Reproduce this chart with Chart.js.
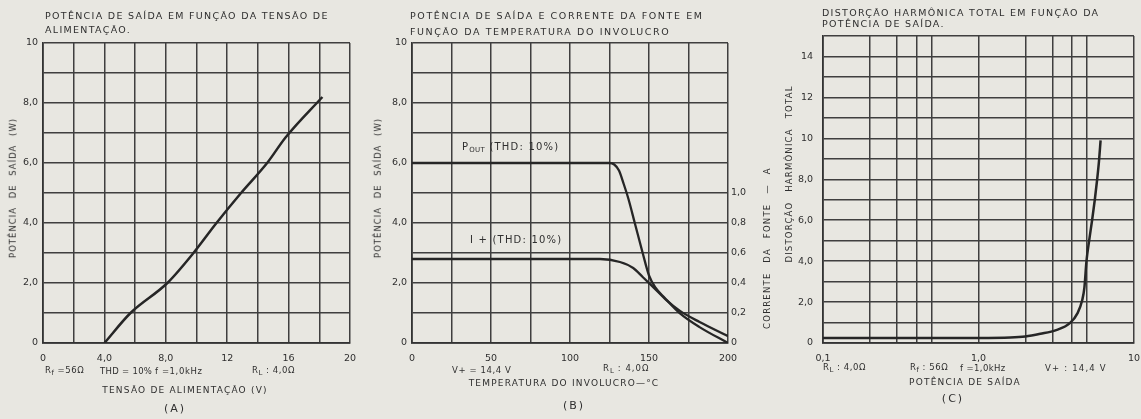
<!DOCTYPE html>
<html>
<head>
<meta charset="utf-8">
<script src="https://cdn.jsdelivr.net/npm/chart.js@4.4.1/dist/chart.umd.min.js"></script>
<style>
  body { margin: 0; width: 1141px; height: 419px; overflow: hidden; background: #e8e7e1; position: relative;
         font-family: "DejaVu Sans", sans-serif; color: #2f2f2f; }
  canvas { position: absolute; top: 0; }
  .t { position: absolute; white-space: nowrap; font-size: 9px; letter-spacing: 1.2px; line-height: 1; }
  .h { font-size: 9.5px; letter-spacing: 1.3px; }
  .r { font-size: 8.5px; letter-spacing: 0.6px; }
  .m { transform: translateY(-50%); }
  .c { transform: translate(-50%, -50%); }
  .v { transform: translate(-50%, -50%) rotate(-90deg); }
  sub { font-size: 7px; vertical-align: -2px; letter-spacing: 0.3px; }
</style>
</head>
<body>
<canvas id="chartA" width="380" height="419" style="left:0"></canvas>
<canvas id="chartB" width="400" height="419" style="left:380px"></canvas>
<canvas id="chartC" width="370" height="419" style="left:780px"></canvas>

<!-- (A) -->
<div class="t h m" style="left:45px;top:16px">POTÊNCIA DE SAÍDA EM FUNÇÃO DA TENSÃO DE</div>
<div class="t h m" style="left:45px;top:30px">ALIMENTAÇÃO.</div>
<div class="t v" style="left:13px;top:188px;word-spacing:5px;font-size:8.5px;letter-spacing:1px">POTÊNCIA DE SAÍDA (W)</div>
<div class="t r m" style="left:45px;top:371px">R<sub>f</sub> =56Ω</div>
<div class="t r m" style="left:100px;top:371px;letter-spacing:0.3px">THD = 10%</div>
<div class="t r m" style="left:155px;top:371px">f =1,0kHz</div>
<div class="t r m" style="left:252px;top:371px">R<sub>L</sub> : 4,0Ω</div>
<div class="t c" style="left:185px;top:390px">TENSÃO DE ALIMENTAÇÃO (V)</div>
<div class="t c" style="left:175px;top:408px;font-size:11px;letter-spacing:2px">(A)</div>

<!-- (B) -->
<div class="t h m" style="left:410px;top:16px;letter-spacing:1.6px">POTÊNCIA DE SAÍDA E CORRENTE DA FONTE EM</div>
<div class="t h m" style="left:410px;top:32px;letter-spacing:1.6px">FUNÇÃO DA TEMPERATURA DO INVOLUCRO</div>
<div class="t v" style="left:378px;top:188px;word-spacing:5px;font-size:8.5px;letter-spacing:1px">POTÊNCIA DE SAÍDA (W)</div>
<div class="t v" style="left:767px;top:248px;word-spacing:6px;font-size:8.5px">CORRENTE DA FONTE — A</div>
<div class="t m" style="left:462px;top:148px;font-size:10px">P<sub>OUT</sub> (THD: 10%)</div>
<div class="t m" style="left:470px;top:240px;font-size:10px">I + (THD: 10%)</div>
<div class="t r m" style="left:452px;top:370px">V+ = 14,4 V</div>
<div class="t r m" style="left:603px;top:369px;letter-spacing:1px">R<sub>L</sub> : 4,0Ω</div>
<div class="t c" style="left:564px;top:383px">TEMPERATURA DO INVOLUCRO—°C</div>
<div class="t c" style="left:574px;top:405px;font-size:11px;letter-spacing:2px">(B)</div>

<!-- (C) -->
<div class="t h m" style="left:822px;top:13px">DISTORÇÃO HARMÔNICA TOTAL EM FUNÇÃO DA</div>
<div class="t h m" style="left:822px;top:24px">POTÊNCIA DE SAÍDA.</div>
<div class="t v" style="left:789px;top:174px;word-spacing:6px;font-size:8.5px">DISTORÇÃO HARMÔNICA TOTAL</div>
<div class="t r m" style="left:823px;top:368px">R<sub>L</sub> : 4,0Ω</div>
<div class="t r m" style="left:910px;top:368px">R<sub>f</sub> : 56Ω</div>
<div class="t r m" style="left:960px;top:368px;letter-spacing:0.4px">f =1,0kHz</div>
<div class="t r m" style="left:1045px;top:368px;letter-spacing:1.2px">V+ :  14,4 V</div>
<div class="t c" style="left:965px;top:382px">POTÊNCIA DE SAÍDA</div>
<div class="t c" style="left:953px;top:398px;font-size:11px;letter-spacing:2px">(C)</div>

<script>
// (A) potencia de saida x tensao de alimentacao
const voltsA = [4.0, 5.7, 8.1, 9.8, 11.3, 12.9, 14.6, 15.8, 18.2];
const powerA = [0, 1.0, 2.0, 3.0, 4.0, 5.0, 6.0, 6.85, 8.2];
const xTicksA = [0, 4, 8, 12, 16, 20];
const xLabelsA = ['0', '4,0', '8,0', '12', '16', '20'];
const yTicksA = [0, 2, 4, 6, 8, 10];
const yLabelsA = ['0', '2,0', '4,0', '6,0', '8,0', '10'];

// (B) potencia e corrente x temperatura do involucro
const tempPout = [0, 125, 128, 131, 134, 137, 141, 146, 150, 154, 160, 170, 182, 200];
const pout = [6.0, 6.0, 5.95, 5.75, 5.3, 4.8, 4.0, 3.0, 2.25, 1.85, 1.5, 0.97, 0.53, 0];
const tempCurrent = [0, 119, 131.6, 140, 146, 152.5, 161, 169.6, 182, 200];
const current = [0.56, 0.56, 0.54, 0.50, 0.44, 0.374, 0.286, 0.214, 0.14, 0.046];
const xTicksB = [0, 50, 100, 150, 200];
const xLabelsB = ['0', '50', '100', '150', '200'];
const yTicksB = [0, 2, 4, 6, 8, 10];
const yLabelsB = ['0', '2,0', '4,0', '6,0', '8,0', '10'];
const y2TicksB = [0, 0.2, 0.4, 0.6, 0.8, 1.0];
const y2LabelsB = ['0', '0,2', '0,4', '0,6', '0,8', '1,0'];

// (C) distorcao harmonica x potencia de saida
const powerC = [0.1, 1.0, 1.6, 2.0, 2.5, 3.16, 3.87, 4.34, 4.65, 4.8, 4.95, 5.15, 5.38, 5.6, 5.8, 5.96, 6.1];
const thdC = [0.25, 0.25, 0.27, 0.32, 0.45, 0.63, 0.97, 1.46, 2.1, 2.7, 4.0, 5.0, 6.0, 7.0, 8.0, 8.9, 9.9];
const xGridC = [0.1, 0.2, 0.3, 0.4, 0.5, 1, 2, 3, 4, 5, 10];
const xTicksC = [0.1, 1, 10];
const xLabelsC = ['0,1', '1,0', '10'];
const yTicksC = [0, 2, 4, 6, 8, 10, 12, 14];
const yLabelsC = ['0', '2,0', '4,0', '6,0', '8,0', '10', '12', '14'];

const ink = '#2f2f2f';
const gridStyle = { color: '#3f3f3f', lineWidth: 1.5, drawTicks: false };
const borderStyle = { color: '#333333', width: 1.7 };
const tickFont = { family: 'DejaVu Sans', size: 9.5 };

function labelFrom(vals, labels) {
  return function(v) {
    const i = vals.findIndex(t => Math.abs(t - v) < 1e-6);
    return i < 0 ? '' : labels[i];
  };
}

function points(xs, ys) {
  return xs.map((x, i) => ({ x: x, y: ys[i] }));
}

function ticks(pad, vals, labels, extra) {
  return Object.assign({ padding: pad, font: tickFont, color: ink, maxRotation: 0, autoSkip: false,
                         callback: labelFrom(vals, labels) }, extra || {});
}

const baseOptions = {
  responsive: false,
  animation: false,
  plugins: { legend: { display: false }, tooltip: { enabled: false } },
  elements: { point: { radius: 0 } }
};

new Chart(document.getElementById('chartA'), {
  type: 'line',
  data: {
    datasets: [{ data: points(voltsA, powerA), borderColor: '#262626', borderWidth: 2.5, cubicInterpolationMode: 'monotone' }]
  },
  options: Object.assign({}, baseOptions, {
    layout: { padding: { top: 43, right: 30, left: 0, bottom: 0 } },
    scales: {
      x: { type: 'linear', min: 0, max: 20, afterFit: s => { s.height = 76; },
           grid: gridStyle, border: borderStyle, ticks: ticks(10, xTicksA, xLabelsA, { stepSize: 2 }) },
      y: { min: 0, max: 10, afterFit: s => { s.width = 43; },
           grid: gridStyle, border: borderStyle, ticks: ticks(5, yTicksA, yLabelsA, { stepSize: 1 }) }
    }
  })
});

new Chart(document.getElementById('chartB'), {
  type: 'line',
  data: {
    datasets: [
      { data: points(tempPout, pout), borderColor: '#262626', borderWidth: 2.3, cubicInterpolationMode: 'monotone' },
      { data: points(tempCurrent, current), yAxisID: 'y2', borderColor: '#262626', borderWidth: 2.3, cubicInterpolationMode: 'monotone' }
    ]
  },
  options: Object.assign({}, baseOptions, {
    layout: { padding: { top: 43, right: 0, left: 0, bottom: 0 } },
    scales: {
      x: { type: 'linear', min: 0, max: 200, afterFit: s => { s.height = 76; },
           grid: gridStyle, border: borderStyle, ticks: ticks(10, xTicksB, xLabelsB, { stepSize: 25 }) },
      y: { min: 0, max: 10, afterFit: s => { s.width = 32; },
           grid: gridStyle, border: borderStyle, ticks: ticks(5, yTicksB, yLabelsB, { stepSize: 1 }) },
      y2: { position: 'right', min: 0, max: 2, afterFit: s => { s.width = 52; },
            grid: { display: false, drawTicks: false }, border: { display: false },
            ticks: ticks(3, y2TicksB, y2LabelsB, { stepSize: 0.2 }) }
    }
  })
});

new Chart(document.getElementById('chartC'), {
  type: 'line',
  data: {
    datasets: [{ data: points(powerC, thdC), borderColor: '#262626', borderWidth: 2.5, cubicInterpolationMode: 'monotone' }]
  },
  options: Object.assign({}, baseOptions, {
    layout: { padding: { top: 36, right: 7, left: 0, bottom: 0 } },
    scales: {
      x: { type: 'logarithmic', min: 0.1, max: 10, afterFit: s => { s.height = 76; },
           afterBuildTicks: s => { s.ticks = xGridC.map(v => ({ value: v })); },
           grid: gridStyle, border: borderStyle, ticks: ticks(10, xTicksC, xLabelsC) },
      y: { min: 0, max: 15, afterFit: s => { s.width = 43; },
           grid: gridStyle, border: borderStyle, ticks: ticks(10, yTicksC, yLabelsC, { stepSize: 1 }) }
    }
  })
});
</script>
</body>
</html>
